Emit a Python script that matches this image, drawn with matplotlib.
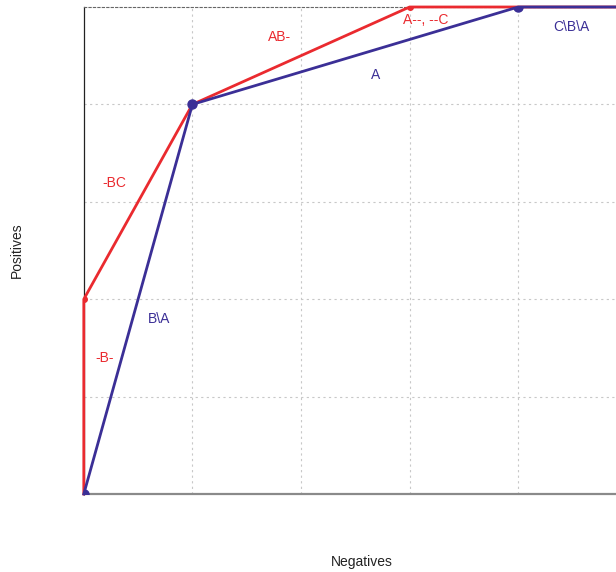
import matplotlib
matplotlib.use("Agg")
import matplotlib.pyplot as plt

plt.rcParams['font.family'] = ['Liberation Sans', 'DejaVu Sans']

# ROC-style hull curves (negatives vs positives)
red_x = [0, 0, 1, 3, 5]
red_y = [0, 2, 4, 5, 5]
blue_x = [0, 1, 4, 5]
blue_y = [0, 4, 5, 5]

red_labels = ["AB-", "A--, --C", "-BC", "-B-"]
red_label_pos = [(1.80, 4.69), (3.15, 4.87), (0.28, 3.19), (0.19, 1.40)]
blue_labels = ["B\\A", "A", "C\\B\\A"]
blue_label_pos = [(0.69, 1.80), (2.69, 4.30), (4.49, 4.79)]

RED = "#ea2a2f"
BLUE = "#3b2f96"

fig = plt.figure(figsize=(6.16, 5.72), dpi=100)
ax = fig.add_axes([83.8/616, 1 - 494/572, 543/616, 487/572])

ax.set_xlim(0, 5)
ax.set_ylim(0, 5)
ax.set_xticks([1, 2, 3, 4])
ax.set_yticks([1, 2, 3, 4])
ax.tick_params(length=0, labelbottom=False, labelleft=False)
ax.grid(True, color="#c8c8c8", linestyle=(0, (2, 3)), linewidth=0.8)

ax.spines['left'].set_color("#222222")
ax.spines['left'].set_linewidth(0.9)
ax.spines['bottom'].set_color("#8a8a8a")
ax.spines['bottom'].set_linewidth(1.6)
ax.spines['top'].set_color("#666666")
ax.spines['top'].set_linestyle((0, (2, 2)))
ax.spines['top'].set_linewidth(0.8)
ax.spines['right'].set_visible(False)

# lines drawn over the frame, vertex markers clipped to the plot area
ax.plot(red_x, red_y, color=RED, linewidth=2.0, clip_on=False, zorder=3)
ax.plot(red_x, red_y, linestyle="none", color=RED, marker="o", markersize=4,
        zorder=3)
ax.plot(blue_x, blue_y, color=BLUE, linewidth=2.0, clip_on=False, zorder=4)
ax.plot(blue_x, blue_y, linestyle="none", color=BLUE, marker="o", markersize=6.5,
        zorder=4)

for t, (x, y) in zip(red_labels, red_label_pos):
    ax.text(x, y, t, color=RED, fontsize=10, ha="center", va="center")
for t, (x, y) in zip(blue_labels, blue_label_pos):
    ax.text(x, y, t, color=BLUE, fontsize=10, ha="center", va="center")

fig.text(17/616, 1 - 250/572, "Positives", rotation=90, ha="center", va="center",
         fontsize=10, color="#222222")
fig.text(362/616, 1 - 562/572, "Negatives", ha="center", va="center",
         fontsize=10, color="#222222")

fig.savefig("out.png", dpi=100)
